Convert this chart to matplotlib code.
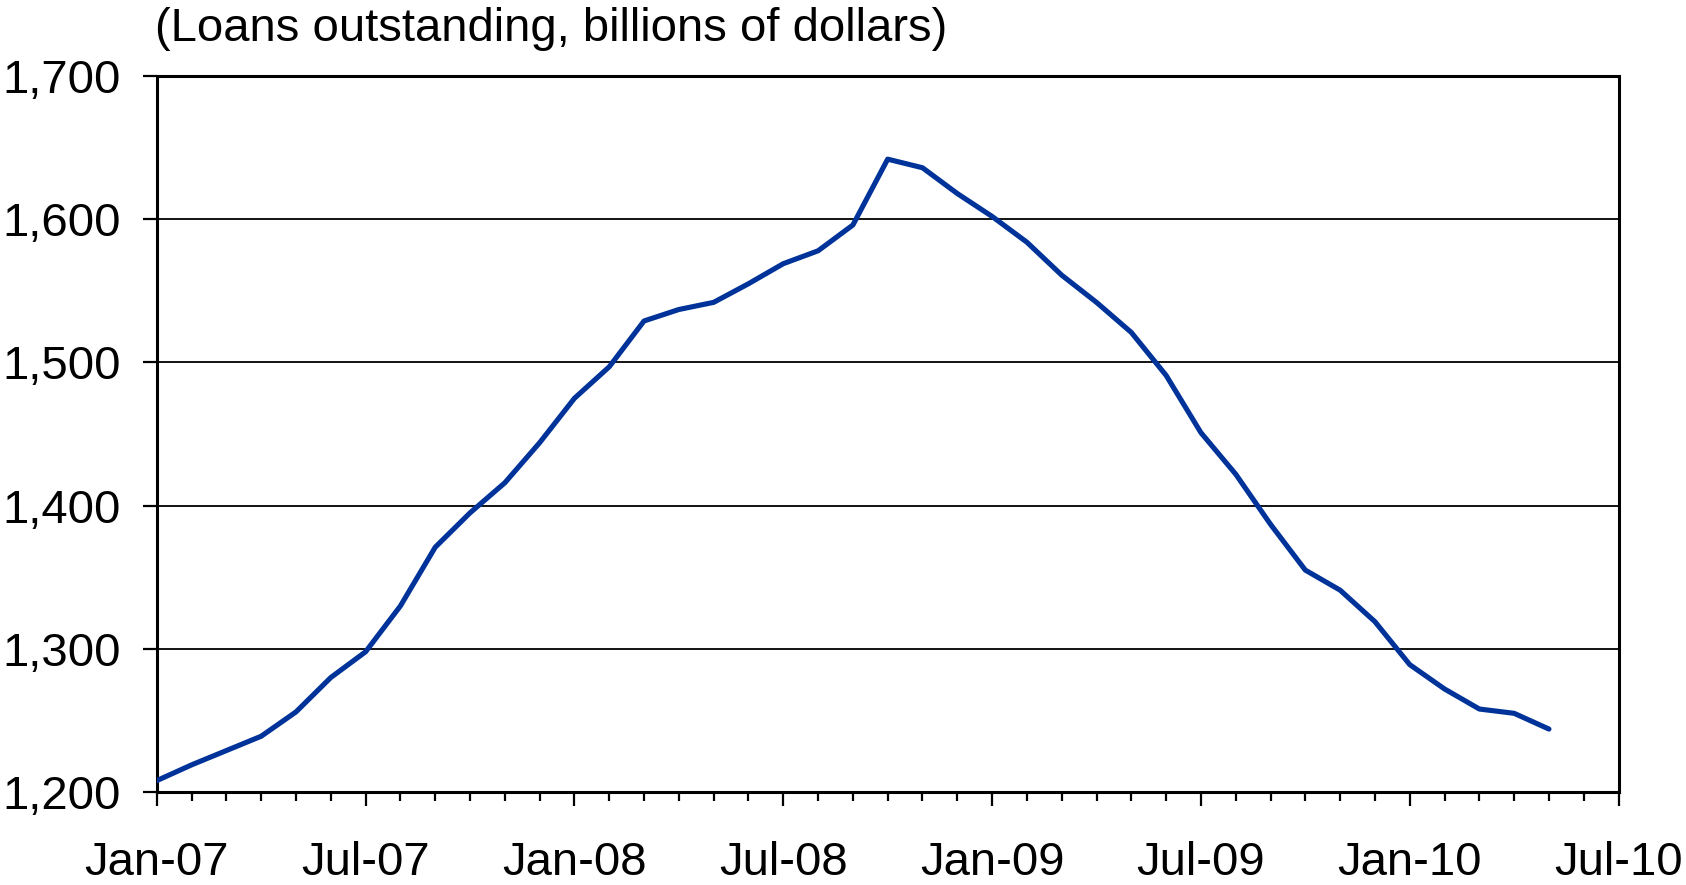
import numpy as np
import matplotlib.pyplot as plt
from matplotlib.ticker import FuncFormatter, MultipleLocator

plt.rcParams['font.family'] = ['Liberation Sans', 'DejaVu Sans']

# monthly loans outstanding, Jan-07 .. May-10 (billions of dollars)
months = np.arange(41)
loans = [1208, 1219, 1229, 1239, 1256, 1280, 1298, 1330, 1371, 1395,
         1416, 1444, 1475, 1497, 1529, 1537, 1542, 1555, 1569, 1578,
         1596, 1642, 1636, 1618, 1602, 1584, 1561, 1542, 1521, 1491,
         1451, 1422, 1387, 1355, 1341, 1319, 1289, 1272, 1258, 1255,
         1244]
tick_labels = ['Jan-07', 'Jul-07', 'Jan-08', 'Jul-08', 'Jan-09', 'Jul-09', 'Jan-10', 'Jul-10']

fig = plt.figure(figsize=(16.86, 8.85), dpi=100)
ax = fig.add_axes([0.093, 0.105, 0.867, 0.809])

ax.plot(months, loans, color='#003399', lw=3.7, solid_capstyle='round', zorder=3)

ax.set_xlim(0, 42)
ax.set_ylim(1200, 1700)
ax.set_xticks(np.arange(0, 43, 6))
ax.set_xticklabels(tick_labels)
ax.xaxis.set_minor_locator(MultipleLocator(1))
ax.yaxis.set_major_locator(MultipleLocator(100))
ax.yaxis.set_major_formatter(FuncFormatter(lambda v, p: f'{int(v):,}'))

ax.grid(axis='y', color='black', lw=1.3)
for s in ax.spines.values():
    s.set_linewidth(2.2)
ax.tick_params(axis='both', which='major', labelsize=34, direction='out',
               length=10, width=1.6, color='black')
ax.tick_params(axis='x', which='major', pad=25)
ax.tick_params(axis='y', which='major', pad=16)
ax.tick_params(axis='x', which='minor', direction='out', length=6.5, width=1.6)

fig.text(0.092, 0.954, '(Loans outstanding, billions of dollars)', fontsize=34,
         ha='left', va='baseline')

fig.savefig('out.png', dpi=100)
